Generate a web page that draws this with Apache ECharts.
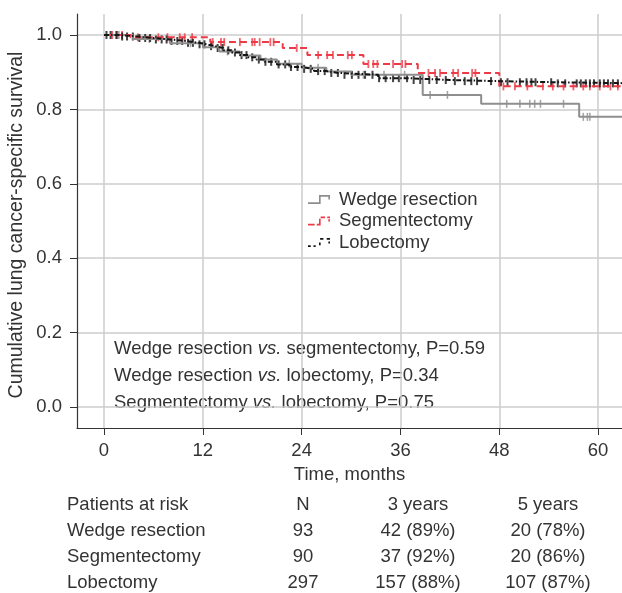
<!DOCTYPE html>
<html>
<head>
<meta charset="utf-8">
<script src="https://cdn.jsdelivr.net/npm/echarts@6/dist/echarts.min.js"></script>
<style>
  html, body { margin: 0; padding: 0; background: #fff; }
  #chart { width: 622px; height: 593px; }
</style>
</head>
<body>
<div id="chart"></div>
<script>
// Kaplan-Meier steps: [month, survival after the event]
const wedgeSteps = [[0, 1], [3.5, 0.989], [8, 0.978], [12, 0.967], [14, 0.956], [16.5, 0.945], [19, 0.934],
  [21, 0.923], [24, 0.912], [27, 0.902], [30, 0.893], [38.7, 0.839], [45.8, 0.815], [57.7, 0.78]]
const segSteps = [[0, 1], [3.2, 0.994], [12.9, 0.981], [21.7, 0.965], [24.7, 0.946], [31.5, 0.922],
  [38.1, 0.898], [48, 0.862]]
const lobSteps = [[0, 1], [2, 0.996], [4, 0.992], [6, 0.988], [8, 0.984], [10, 0.979], [11.5, 0.975],
  [12.5, 0.97], [13.5, 0.965], [14.5, 0.959], [15.5, 0.953], [16.5, 0.946], [17.5, 0.94], [18.5, 0.934],
  [19.5, 0.928], [21, 0.921], [22.5, 0.914], [24, 0.909], [25.5, 0.903], [27, 0.898], [28.5, 0.893],
  [33.3, 0.884], [37, 0.879], [42, 0.876], [48, 0.873], [55, 0.87]]
const followUpEnd = 65

// censored observations (months)
const wedgeCensor = [1.8, 5.5, 10.5, 15, 22.5, 26, 31.5, 34, 36.5, 39.6, 41.7, 48.9, 50.5, 51.7, 52.3, 53.0,
  55.8, 58.2, 58.7, 59.0]
const segCensor = [1.0, 1.6, 2.2, 4.1, 6.6, 7.7, 9.2, 9.8, 10.7, 13.2, 14.2, 14.6, 16.5, 18.0, 18.3, 18.9,
  20.2, 20.6, 23.4, 26.0, 27.1, 27.8, 29.6, 30.1, 32.1, 32.7, 33.2, 35.1, 36.2, 36.6, 39.4, 40.2, 40.8, 42.4,
  43.0, 44.7, 45.1, 48.5, 49.9, 51.4, 53.3, 54.5, 55.8, 57.0, 58.2, 59.0, 60.2, 61.5, 62.4]
const lobCensor = [0.3, 0.8, 1.5, 2.2, 2.8, 3.5, 4.3, 5.0, 5.6, 6.3, 7.0, 7.6, 8.2, 8.9, 9.5, 10.2, 10.8, 11.6,
  12.2, 13.0, 13.8, 14.4, 15.1, 15.9, 16.7, 17.3, 18.0, 18.8, 19.6, 20.3, 21.2, 22.0, 22.7, 23.5, 24.3, 25.1,
  26.0, 26.8, 27.6, 28.4, 29.2, 30.1, 30.9, 31.7, 32.6, 33.4, 34.2, 35.1, 35.8, 36.8, 37.6, 38.4, 39.5, 40.4,
  41.5, 42.6, 43.8, 44.6, 45.3, 47.0, 48.2, 49.0, 50.5, 51.3, 51.9, 52.4, 54.3, 55.1, 56.0, 57.4, 57.9, 58.5,
  59.0, 59.5, 60.2, 60.7, 61.2, 61.8, 62.4]

const groupNames = ['Wedge resection', 'Segmentectomy', 'Lobectomy']
const xTicks = [0, 12, 24, 36, 48, 60]
const yTicks = [0, 0.2, 0.4, 0.6, 0.8, 1.0]

const pComparisons = [
  ['Wedge resection', 'segmentectomy', '0.59'],
  ['Wedge resection', 'lobectomy', '0.34'],
  ['Segmentectomy', 'lobectomy', '0.75'],
]
const tableHeader = ['Patients at risk', 'N', '3 years', '5 years']
const tableN = ['93', '90', '297']
const table3y = ['42 (89%)', '37 (92%)', '157 (88%)']
const table5y = ['20 (78%)', '20 (86%)', '107 (87%)']

const FONT = '"Liberation Sans", Arial, sans-serif'
const FS = 18.5
const TXT = '#333'
const colors = ['#8e8e8e', '#ec3b46', '#141414']

function survivalAt(steps, t) {
  let s = steps[0][1]
  for (let i = 0; i < steps.length; i++) {
    if (steps[i][0] <= t) s = steps[i][1]
  }
  return s
}

function stepSeries(name, steps, color, type) {
  const data = steps.slice()
  data.push([followUpEnd, steps[steps.length - 1][1]])
  return {
    name: name,
    type: 'line',
    step: 'end',
    symbol: 'none',
    data: data,
    itemStyle: { color: color },
    lineStyle: { color: color, width: 2, type: type },
    animation: false,
  }
}

function censorSeries(name, steps, times, color, w) {
  return {
    name: name + ' censored',
    type: 'scatter',
    symbol: 'rect',
    symbolSize: [w, 8],
    data: times.map((t) => [t, survivalAt(steps, t)]),
    itemStyle: { color: color },
    animation: false,
  }
}

const legendIcons = [
  'path://M0,7.5L10,7.5L10,1L20,1L20,5L18.5,5L18.5,2.5L11.5,2.5L11.5,9L0,9Z',
  'path://M0,7.5h6v1.5h-6z M8,7.5h2v1.5h-2z M10,3h1.5v6h-1.5z M11.5,1h4v1.5h-4z M17.5,1h2.5v1.5h-2.5z M18.5,3.5h1.5v2h-1.5z',
  'path://M0,7.5h2.5v1.5h-2.5z M5,7.5h2v1.5h-2z M10,5h1.5v2.5h-1.5z M11,1h3v1.5h-3z M17,1h3v1.5h-3z M18.5,4h1.5v2h-1.5z',
]

const graphics = []
pComparisons.forEach((c, i) => {
  graphics.push({
    type: 'text',
    x: 114,
    y: 349 + i * 26.8,
    style: {
      text: '{n|' + c[0] + ' }{i|vs.}{n| ' + c[1] + ', P=' + c[2] + '}',
      rich: {
        n: { fontSize: FS, fontFamily: FONT, fill: TXT },
        i: { fontSize: FS, fontFamily: FONT, fill: TXT, fontStyle: 'italic' },
      },
      verticalAlign: 'middle',
      align: 'left',
    },
  })
})

const colX = [67, 303, 418, 548]
const rowY = [505, 531, 557, 583]
const tableRows = [tableHeader]
for (let i = 0; i < groupNames.length; i++) {
  tableRows.push([groupNames[i], tableN[i], table3y[i], table5y[i]])
}
tableRows.forEach((row, r) => {
  row.forEach((cell, c) => {
    graphics.push({
      type: 'text',
      x: colX[c],
      y: rowY[r],
      style: {
        text: cell,
        font: FS + 'px ' + FONT,
        fill: TXT,
        align: c === 0 ? 'left' : 'center',
        verticalAlign: 'middle',
      },
    })
  })
})

const chart = echarts.init(document.getElementById('chart'))
const option = {
  backgroundColor: '#fff',
  animation: false,
  grid: { left: 77, right: 0, top: 14, bottom: 165, containLabel: false, outerBoundsMode: 'none' },
  legend: {
    orient: 'vertical',
    left: 308,
    top: 190,
    padding: 0,
    itemWidth: 22,
    itemHeight: 10,
    itemGap: 2.5,
    selectedMode: false,
    textStyle: { fontSize: FS, color: TXT, fontFamily: FONT, padding: [0, 0, 0, 4] },
    data: groupNames.map((n, i) => ({
      name: n,
      icon: legendIcons[i],
      itemStyle: { color: colors[i], borderWidth: 0 },
    })),
  },
  xAxis: {
    type: 'value',
    min: -3.28,
    max: 62.9,
    name: 'Time, months',
    nameLocation: 'middle',
    nameGap: 37,
    nameTextStyle: { fontSize: FS, color: TXT, fontFamily: FONT },
    axisLine: { onZero: false, lineStyle: { color: '#333', width: 1.2 } },
    axisTick: { customValues: xTicks, length: 7, lineStyle: { color: '#333' } },
    axisLabel: { customValues: xTicks, margin: 13, fontSize: FS, color: TXT, fontFamily: FONT },
    splitLine: { show: true, lineStyle: { color: '#cdcdcd', width: 1.5 } },
  },
  yAxis: {
    type: 'value',
    min: -0.0565,
    max: 1.0565,
    name: 'Cumulative lung cancer-specific survival',
    nameLocation: 'middle',
    nameGap: 50,
    nameMoveOverlap: false,
    nameTextStyle: { fontSize: 19.5, color: TXT, fontFamily: FONT, padding: [0, 8, 0, 0] },
    axisLine: { show: true, onZero: false, lineStyle: { color: '#333', width: 1.2 } },
    axisTick: { show: true, customValues: yTicks, length: 7, lineStyle: { color: '#333' } },
    axisLabel: {
      customValues: yTicks,
      margin: 15,
      fontSize: FS,
      color: TXT,
      fontFamily: FONT,
      formatter: (v) => v.toFixed(1),
    },
    splitLine: { show: true, lineStyle: { color: '#cdcdcd', width: 1.5 } },
  },
  series: [
    stepSeries(groupNames[0], wedgeSteps, colors[0], 'solid'),
    stepSeries(groupNames[1], segSteps, colors[1], [7, 4]),
    stepSeries(groupNames[2], lobSteps, colors[2], [5, 2, 1.5, 2]),
    censorSeries(groupNames[0], wedgeSteps, wedgeCensor, colors[0], 1.6),
    censorSeries(groupNames[1], segSteps, segCensor, colors[1], 1.8),
    censorSeries(groupNames[2], lobSteps, lobCensor, colors[2], 2),
  ],
  graphic: graphics,
}
chart.setOption(option)
window.onresize = () => chart.resize()
</script>
</body>
</html>
